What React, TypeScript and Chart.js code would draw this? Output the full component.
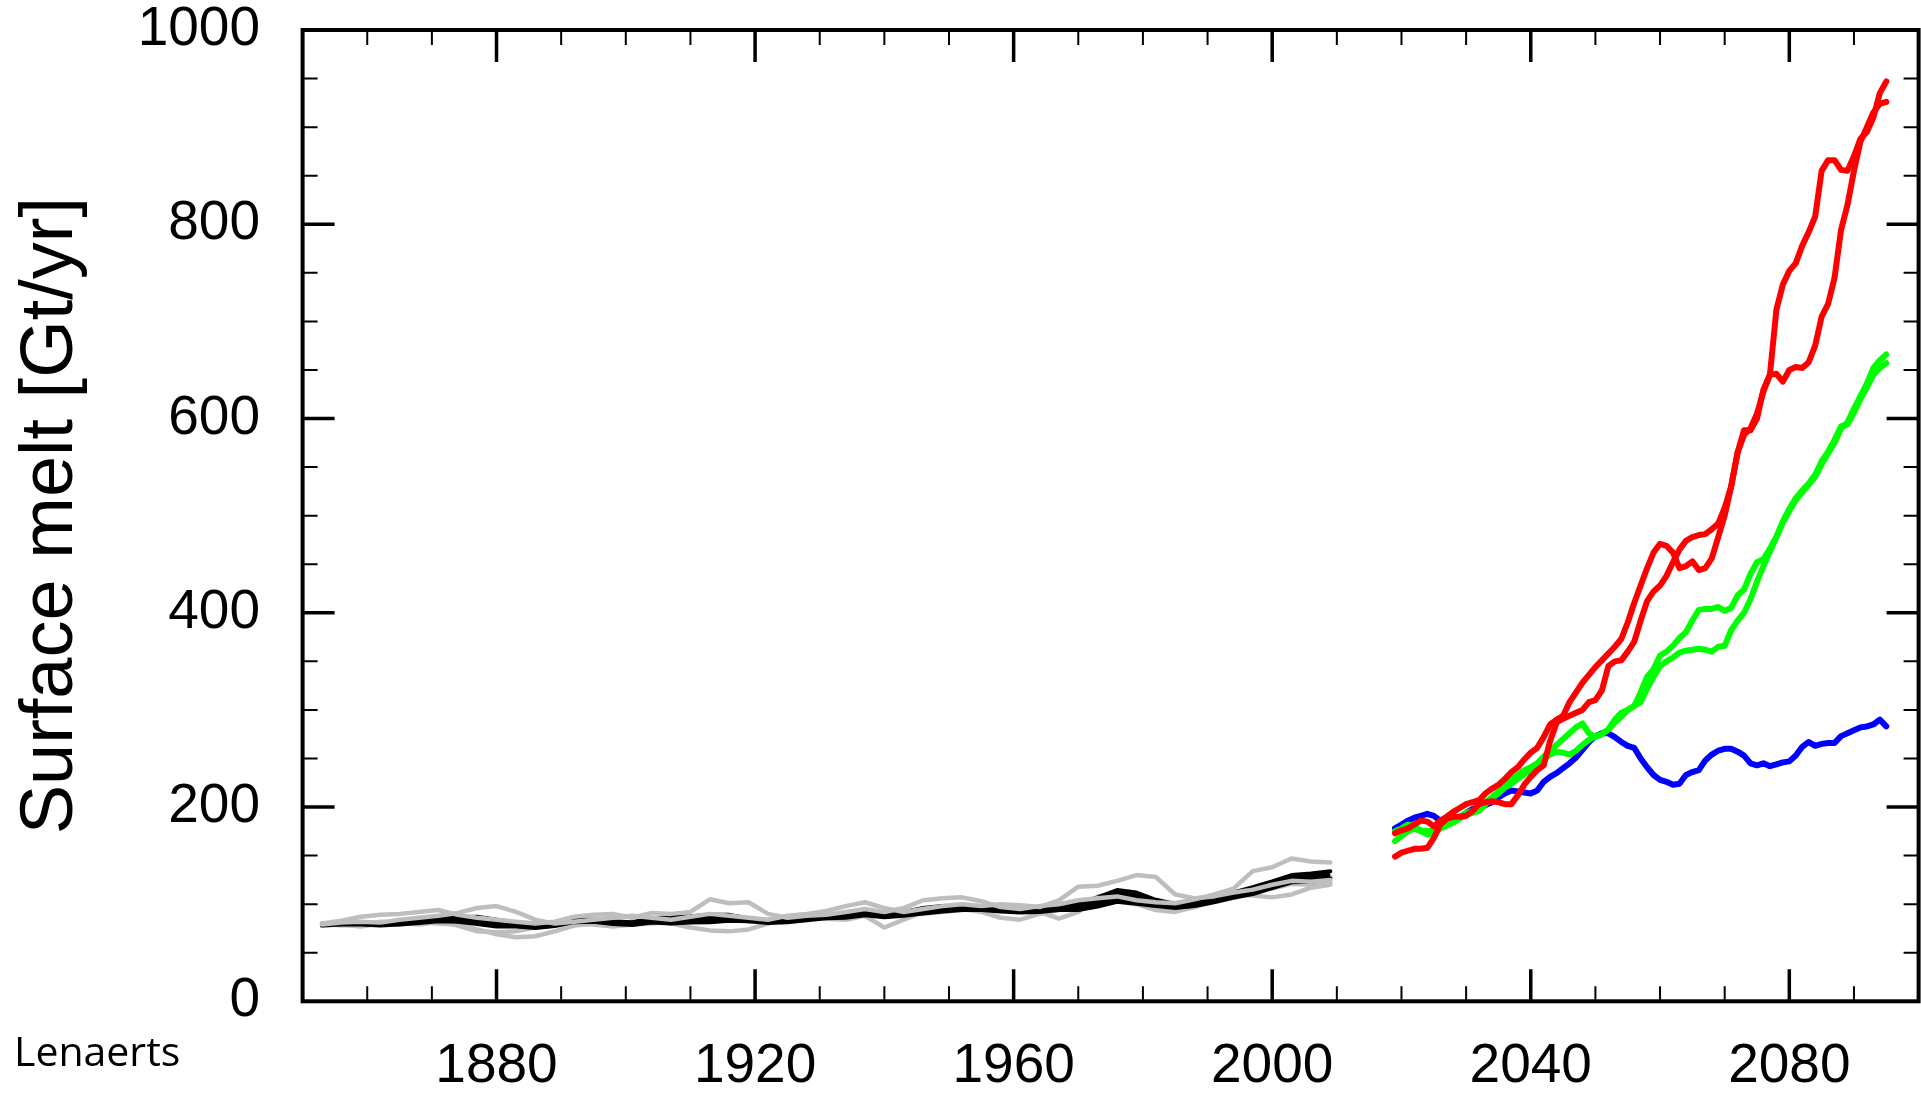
import React, { useEffect, useRef } from "react";
import { Chart, registerables } from "chart.js";

Chart.register(...registerables);

// ---- Historical reconstruction (1853–2009) ----
const histYears = [
  1853, 1856, 1859, 1862, 1865, 1868, 1871, 1874, 1877, 1880, 1883, 1886, 1889, 1892,
  1895, 1898, 1901, 1904, 1907, 1910, 1913, 1916, 1919, 1922, 1925, 1928, 1931, 1934,
  1937, 1940, 1943, 1946, 1949, 1952, 1955, 1958, 1961, 1964, 1967, 1970, 1973, 1976,
  1979, 1982, 1985, 1988, 1991, 1994, 1997, 2000, 2003, 2006, 2009,
];

const histBlackLow = [
  78, 79, 79, 78, 79, 80.5, 82.5, 82, 79.5, 77, 77, 75.5, 77.5, 81.5,
  82, 79.5, 78.5, 81, 80, 81, 81.5, 83, 82.5, 80.5, 81.5, 83.5, 85.5, 86,
  88.5, 86.5, 88, 90.5, 92.5, 94, 94, 92.5, 91.5, 92, 94, 94, 97.5, 102.5,
  100.5, 98, 96, 98, 102, 106.5, 110.5, 116.5, 122.5, 123, 126.5,
];
const histBlackHigh = [
  80, 81, 81, 80, 81, 83.5, 85.5, 86.5, 87, 84, 81, 78.5, 80.5, 84.5,
  84, 82.5, 81.5, 85.5, 86.5, 87.5, 89, 89, 85.5, 83.5, 84.5, 86.5, 88.5, 90.5,
  93.5, 89.5, 92, 96, 98, 98.5, 98, 95.5, 94.5, 96, 98, 100.5, 107, 114.5,
  112, 104.5, 100, 102, 106, 112, 117.5, 123.5, 130, 131.5, 134,
];

const histGray1 = [
  80, 83, 87, 89, 90, 92, 94, 89, 86, 84, 82, 80, 82, 87,
  89, 90, 86, 91, 90, 92, 105, 101, 102, 90, 86, 88, 89, 92,
  95, 92, 96, 104, 106, 107, 103, 97, 95, 98, 100, 104, 106, 108,
  104, 102, 101, 105, 110, 116, 134, 138, 147, 144, 143,
];
const histGray2 = [
  79, 81, 82, 81, 84, 86, 88, 91, 96, 98, 92, 84, 80, 82,
  84, 86, 88, 86, 84, 87, 90, 88, 86, 84, 88, 90, 93, 98,
  102, 96, 92, 95, 98, 100, 98, 100, 99, 97, 104, 118, 119, 124,
  130, 128, 110, 106, 108, 112, 115, 120, 124, 123, 125,
];
const histGray3 = [
  78, 79, 77, 80, 79, 81, 80, 79, 74, 69, 66, 67, 72, 78,
  80, 79, 82, 83, 80, 76, 73, 72, 74, 80, 84, 86, 85, 84,
  88, 76, 84, 92, 94, 95, 92, 86, 84, 90, 94, 98, 100, 103,
  100, 94, 92, 97, 103, 108, 112, 116, 121, 120, 122,
];
const histGray4 = [
  80, 78, 79, 82, 81, 79, 82, 78, 72, 71, 72, 76, 78, 80,
  79, 77, 79, 80, 82, 84, 87, 86, 82, 84, 86, 84, 88, 90,
  90, 87, 91, 90, 92, 94, 95, 93, 95, 92, 85, 92, 108, 112,
  106, 104, 101, 103, 106, 110, 109, 107, 110, 117, 120,
];
const histGray5 = [
  79, 80, 81, 79, 82, 84, 83, 85, 84, 83, 80, 78, 79, 84,
  82, 80, 79, 84, 86, 83, 84, 87, 85, 82, 84, 86, 87, 89,
  92, 89, 89, 94, 96, 97, 96, 95, 94, 95, 97, 99, 103, 106,
  105, 102, 99, 101, 105, 110, 115, 122, 125, 126, 128,
];

// ---- Projections (2019–2095) ----
const projYears = [
  2019, 2020, 2021, 2022, 2023, 2024, 2025, 2026, 2027, 2028,
  2029, 2030, 2031, 2032, 2033, 2034, 2035, 2036, 2037, 2038,
  2039, 2040, 2041, 2042, 2043, 2044, 2045, 2046, 2047, 2048,
  2049, 2050, 2051, 2052, 2053, 2054, 2055, 2056, 2057, 2058,
  2059, 2060, 2061, 2062, 2063, 2064, 2065, 2066, 2067, 2068,
  2069, 2070, 2071, 2072, 2073, 2074, 2075, 2076, 2077, 2078,
  2079, 2080, 2081, 2082, 2083, 2084, 2085, 2086, 2087, 2088,
  2089, 2090, 2091, 2092, 2093, 2094, 2095,
];

const projBlue = [
  178, 182, 186, 189, 191, 193, 191, 186, 183, 185,
  189, 194, 198, 200, 202, 205, 210, 214, 217, 216,
  215, 214, 217, 226, 231, 235, 240, 245, 251, 259,
  267, 273, 276, 276, 272, 267, 263, 261, 250, 241,
  233, 228, 226, 223, 224, 233, 236, 238, 248, 254,
  258, 260, 260, 257, 253, 245, 243, 245, 242, 244,
  246, 247, 253, 262, 267, 263, 265, 266, 266, 273,
  276, 279, 282, 283, 285, 290, 283,
];

const projGreenA = [
  175, 178, 182, 180, 176, 175, 176, 178, 182, 186,
  190, 194, 196, 199, 205, 210, 216, 222, 228, 233,
  238, 241, 245, 252, 258, 264, 270, 276, 282, 286,
  276, 272, 275, 280, 290, 297, 300, 304, 318, 334,
  342, 356, 360, 366, 374, 380, 392, 403, 404, 404,
  406, 402, 405, 418, 424, 440, 452, 455, 466, 478,
  493, 505, 516, 524, 532, 540, 553, 564, 575, 590,
  596, 610, 623, 636, 652, 660, 666,
];
const projGreenB = [
  165, 170, 175, 178, 175, 172, 172, 178, 181, 184,
  188, 192, 194, 196, 203, 209, 214, 220, 224, 229,
  234, 238, 243, 249, 254, 257, 256, 254, 258, 264,
  269, 273, 275, 280, 287, 293, 300, 304, 308, 322,
  334, 345, 350, 354, 359, 361, 362, 363, 362, 360,
  365, 366, 382, 392, 400, 414, 432, 448, 463, 478,
  494, 507, 518, 526, 533, 542, 556, 566, 578, 592,
  594, 606, 620, 632, 645, 652, 657,
];

const projRedA = [
  173, 176, 178, 182, 186, 185, 180, 186, 190, 195,
  199, 203, 205, 207, 214, 219, 223, 229, 236, 241,
  249, 256, 261, 272, 285, 290, 294, 308, 318, 328,
  336, 344, 351, 358, 365, 373, 390, 410, 428, 446,
  462, 471, 469, 462, 446, 448, 453, 444, 446, 456,
  478, 500, 530, 565, 588, 588, 600, 630, 645, 646,
  638, 650, 653, 652, 658, 675, 705, 718, 745, 794,
  820, 855, 885, 900, 915, 924, 926,
];
const projRedB = [
  149, 153, 155, 157, 157, 158, 168, 182, 188, 190,
  190, 191, 196, 203, 205, 206, 205, 203, 203, 212,
  223, 231, 238, 243, 268, 287, 291, 294, 297, 300,
  308, 310, 320, 345, 350, 351, 360, 370, 392, 412,
  422, 428, 438, 452, 465, 474, 478, 480, 481, 486,
  492, 508, 530, 565, 583, 590, 605, 628, 645, 712,
  738, 752, 760, 778, 792, 808, 855, 866, 866, 856,
  855, 870, 888, 895, 910, 935, 947,
];

// ---- Axis labels ----
const xLabelTicks = [1880, 1920, 1960, 2000, 2040, 2080];
const yLabelTicks = [0, 200, 400, 600, 800, 1000];
const yTitle = "Surface melt [Gt/yr]";
const creditText = "Lenaerts";

const FONT = '"Liberation Sans", Arial, Helvetica, sans-serif';

const toPoints = (xs: number[], ys: number[]) => xs.map((x, i) => ({ x, y: ys[i] }));

const series = (
  label: string,
  xs: number[],
  ys: number[],
  color: string,
  width: number,
  extra: Record<string, unknown> = {}
) => ({
  label,
  data: toPoints(xs, ys),
  borderColor: color,
  backgroundColor: color,
  borderWidth: width,
  pointRadius: 0,
  pointHoverRadius: 0,
  tension: 0,
  borderCapStyle: "round",
  borderJoinStyle: "round",
  fill: false,
  ...extra,
});

// Inward tick marks on all four sides, the closed frame and the credit line.
const framePlugin = {
  id: "frameTicks",
  afterDatasetsDraw(chart: any) {
    const { ctx, chartArea: a, scales } = chart;
    const x = scales.x;
    const y = scales.y;
    ctx.save();
    ctx.strokeStyle = "#000";
    ctx.lineCap = "butt";

    const majorLen = 32;
    const minorLen = 15;

    for (let yr = 1860; yr <= 2090; yr += 10) {
      const major = (yr - 1880) % 40 === 0;
      const px = x.getPixelForValue(yr);
      const len = major ? majorLen : minorLen;
      ctx.lineWidth = major ? 3.5 : 2;
      ctx.beginPath();
      ctx.moveTo(px, a.bottom);
      ctx.lineTo(px, a.bottom - len);
      ctx.moveTo(px, a.top);
      ctx.lineTo(px, a.top + len);
      ctx.stroke();
    }

    for (let v = 50; v <= 950; v += 50) {
      const major = v % 200 === 0;
      const py = y.getPixelForValue(v);
      const len = major ? majorLen : minorLen;
      ctx.lineWidth = major ? 3.5 : 2;
      ctx.beginPath();
      ctx.moveTo(a.left, py);
      ctx.lineTo(a.left + len, py);
      ctx.moveTo(a.right, py);
      ctx.lineTo(a.right - len, py);
      ctx.stroke();
    }

    ctx.lineWidth = 4;
    ctx.lineJoin = "miter";
    ctx.strokeRect(a.left, a.top, a.right - a.left, a.bottom - a.top);

    ctx.fillStyle = "#000";
    ctx.font = '41px "Open Sans", "Noto Sans", sans-serif';
    ctx.textAlign = "left";
    ctx.textBaseline = "alphabetic";
    ctx.fillText(creditText, 14, 1066);
    ctx.restore();
  },
};

export default function App() {
  const canvasRef = useRef<HTMLCanvasElement | null>(null);

  useEffect(() => {
    const canvas = canvasRef.current;
    if (!canvas) return;

    // Index 0 is painted last (on top).
    const datasets = [
      series("Projection red 1", projYears, projRedA, "#ff0000", 6),
      series("Projection red 2", projYears, projRedB, "#ff0000", 6),
      series("Projection green 1", projYears, projGreenA, "#00ff00", 6),
      series("Projection green 2", projYears, projGreenB, "#00ff00", 6),
      series("Projection blue", projYears, projBlue, "#0000ff", 6),
      series("Historical run 1", histYears, histGray1, "#bebebe", 4.5),
      series("Historical run 2", histYears, histGray2, "#bebebe", 4.5),
      series("Reconstruction upper", histYears, histBlackHigh, "#000000", 4, {
        fill: "+1",
        backgroundColor: "#000000",
      }),
      series("Reconstruction lower", histYears, histBlackLow, "#000000", 4),
      series("Historical run 3", histYears, histGray3, "#bebebe", 4.5),
      series("Historical run 4", histYears, histGray4, "#bebebe", 4.5),
      series("Historical run 5", histYears, histGray5, "#bebebe", 4.5),
    ];

    const chart = new Chart(canvas, {
      type: "line",
      data: { datasets: datasets as any },
      options: {
        responsive: false,
        maintainAspectRatio: false,
        animation: false,
        devicePixelRatio: 1,
        layout: { padding: { top: 30, right: 2.4, left: 0, bottom: 0 } },
        plugins: {
          legend: { display: false },
          tooltip: { enabled: false },
        },
        scales: {
          x: {
            type: "linear",
            position: "bottom",
            min: 1850,
            max: 2100,
            grid: { display: false, drawTicks: false },
            border: { display: false },
            ticks: {
              autoSkip: false,
              maxRotation: 0,
              minRotation: 0,
              padding: 33,
              color: "#000",
              font: { family: FONT, size: 55 },
              callback: (v: any) => String(v),
            },
            afterBuildTicks: (s: any) => {
              s.ticks = xLabelTicks.map((v) => ({ value: v }));
            },
            afterFit: (s: any) => {
              s.height = 92.7;
              s.paddingLeft = 0;
              s.paddingRight = 0;
            },
          },
          y: {
            type: "linear",
            position: "left",
            min: 0,
            max: 1000,
            grid: { display: false, drawTicks: false },
            border: { display: false },
            ticks: {
              autoSkip: false,
              padding: 42.6,
              color: "#000",
              font: { family: FONT, size: 55 },
              callback: (v: any) => String(v),
            },
            afterBuildTicks: (s: any) => {
              s.ticks = yLabelTicks.map((v) => ({ value: v }));
            },
            title: {
              display: true,
              text: yTitle,
              color: "#000",
              font: { family: FONT, size: 74 },
              padding: { top: 7.5, bottom: 0 },
            },
            afterFit: (s: any) => {
              s.width = 302.6;
              s.paddingTop = 0;
              s.paddingBottom = 0;
            },
          },
        },
      } as any,
      plugins: [framePlugin],
    });

    return () => chart.destroy();
  }, []);

  return (
    <div
      style={{
        position: "fixed",
        left: 0,
        top: 0,
        width: 1921,
        height: 1094,
        background: "#fff",
        overflow: "hidden",
      }}
    >
      <canvas
        ref={canvasRef}
        width={1921}
        height={1094}
        style={{ display: "block", width: 1921, height: 1094 }}
      />
    </div>
  );
}
